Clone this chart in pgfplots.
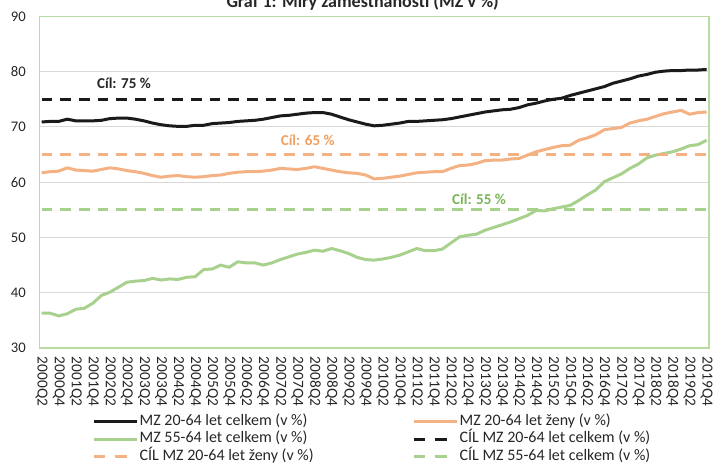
\documentclass[border=0pt]{standalone}
\usepackage{pgfplots}
\pgfplotsset{compat=1.18}
\usepackage{pgfplotstable}
\usepackage{fontspec}
\setmainfont{Carlito}
\definecolor{cblack}{HTML}{1A1A1A}
\definecolor{corange}{HTML}{F4B183}
\definecolor{cgreen}{HTML}{A9D18E}
\definecolor{cborder}{HTML}{B9DCA2}
\definecolor{cgrid}{HTML}{D9D9D9}
\definecolor{ctext}{HTML}{262626}
\definecolor{corangetxt}{HTML}{F0A060}
\definecolor{cgreentxt}{HTML}{79B556}
\pgfplotsset{dashleg/.style={legend image code/.code={\draw[##1,solid] (0pt,0pt)--(8.75pt,0pt) (16.25pt,0pt)--(25pt,0pt);}}}

\pgfplotstableread{
i tot zen s55
0 70.9 61.7 36.3
1 71.0 61.9 36.3
2 71.0 62.0 35.8
3 71.4 62.6 36.2
4 71.1 62.2 37.0
5 71.1 62.1 37.2
6 71.1 62.0 38.1
7 71.2 62.3 39.5
8 71.5 62.6 40.1
9 71.6 62.4 41.0
10 71.6 62.1 41.9
11 71.4 61.9 42.1
12 71.1 61.6 42.2
13 70.7 61.2 42.6
14 70.4 60.9 42.3
15 70.2 61.1 42.5
16 70.1 61.2 42.4
17 70.1 61.0 42.8
18 70.3 60.9 42.9
19 70.3 61.0 44.2
20 70.6 61.2 44.3
21 70.7 61.3 45.0
22 70.8 61.6 44.6
23 71.0 61.8 45.6
24 71.1 61.9 45.4
25 71.2 61.9 45.4
26 71.4 62.0 45.0
27 71.7 62.2 45.4
28 72.0 62.5 46.0
29 72.1 62.4 46.5
30 72.3 62.3 47.0
31 72.5 62.5 47.3
32 72.6 62.8 47.7
33 72.6 62.5 47.5
34 72.3 62.2 48.0
35 71.8 61.9 47.6
36 71.3 61.7 47.1
37 70.9 61.6 46.4
38 70.5 61.3 46.0
39 70.2 60.6 45.9
40 70.3 60.7 46.1
41 70.5 60.9 46.4
42 70.7 61.1 46.8
43 71.0 61.4 47.4
44 71.0 61.7 48.0
45 71.1 61.8 47.6
46 71.2 61.9 47.6
47 71.3 61.9 47.9
48 71.5 62.5 49.0
49 71.8 63.0 50.1
50 72.1 63.1 50.4
51 72.4 63.4 50.6
52 72.7 63.9 51.3
53 72.9 64.0 51.8
54 73.1 64.0 52.3
55 73.2 64.2 52.8
56 73.5 64.3 53.4
57 74.0 64.9 54.0
58 74.3 65.5 54.9
59 74.7 65.9 54.8
60 75.0 66.3 55.2
61 75.2 66.6 55.5
62 75.7 66.7 55.8
63 76.1 67.6 56.7
64 76.5 68.0 57.7
65 76.9 68.6 58.6
66 77.3 69.5 60.1
67 77.9 69.7 60.8
68 78.3 69.9 61.5
69 78.7 70.7 62.5
70 79.2 71.1 63.3
71 79.5 71.4 64.4
72 79.9 71.9 64.9
73 80.1 72.4 65.2
74 80.2 72.7 65.5
75 80.2 73.0 66.0
76 80.3 72.3 66.6
77 80.3 72.6 66.8
78 80.4 72.7 67.6
}\datatable

\begin{document}
\begin{tikzpicture}
\useasboundingbox (0pt,0pt) rectangle (534.75pt,347.25pt);
\clip (0pt,0pt) rectangle (534.75pt,347.25pt);
\node[font=\bfseries\fontsize{13.5}{15}\selectfont, text=ctext, anchor=base] at (272pt,341.5pt) {Graf 1: Míry zaměstnanosti (MZ v \%)};
\begin{axis}[
  at={(29.475pt,86.25pt)}, anchor=south west,
  scale only axis, width=502.3pt, height=248.7pt,
  xmin=-0.28, xmax=78.28, ymin=30, ymax=90,
  ytick={30,40,...,90},
  xtick={0,2,...,78},
  xticklabels={2000Q2,2000Q4,2001Q2,2001Q4,2002Q2,2002Q4,2003Q2,2003Q4,2004Q2,2004Q4,2005Q2,2005Q4,2006Q2,2006Q4,2007Q2,2007Q4,2008Q2,2008Q4,2009Q2,2009Q4,2010Q2,2010Q4,2011Q2,2011Q4,2012Q2,2012Q4,2013Q2,2013Q4,2014Q2,2014Q4,2015Q2,2015Q4,2016Q2,2016Q4,2017Q2,2017Q4,2018Q2,2018Q4,2019Q2,2019Q4},
  ymajorgrids, grid style={cgrid, line width=0.75pt},
  axis line style={cborder, line width=0.9pt},
  major tick length=0pt,
  /pgf/number format/assume math mode=true,
  tick label style={text=ctext},
  x tick label style={font=\fontsize{11.5}{13}\selectfont, rotate=-90, anchor=west, inner xsep=6.5pt},
  y tick label style={font=\fontsize{11}{13}\selectfont, anchor=east, inner xsep=10pt},
  clip=false,
  legend columns=2,
  legend cell align=left,
  legend image code/.code={\draw[#1] (0pt,0pt) -- (32.25pt,0pt);},
  legend style={at={(0.0787,-0.196)}, anchor=north west, draw=none, fill=none,
    inner sep=0pt, font=\fontsize{12}{13.5}\selectfont, text=ctext, row sep=0pt,
    nodes={inner sep=1pt, text height=8.3pt, text depth=2.6pt},
    /tikz/every even column/.append style={column sep=73pt}},
]
\addplot[cblack, line width=2.25pt, line join=round] table[x=i,y=tot]{\datatable};
\addlegendentry{MZ 20-64 let celkem (v \%)}
\addplot[corange, line width=2.25pt, line join=round] table[x=i,y=zen]{\datatable};
\addlegendentry{MZ 20-64 let ženy (v \%)}
\addplot[cgreen, line width=2.25pt, line join=round] table[x=i,y=s55]{\datatable};
\addlegendentry{MZ 55-64 let celkem (v \%)}
\addplot[cblack, line width=2.25pt, dash pattern=on 8pt off 6pt, dashleg] coordinates {(0,75) (78,75)};
\addlegendentry{CÍL MZ 20-64 let celkem (v \%)}
\addplot[corange, line width=2.25pt, dash pattern=on 8pt off 6pt, dashleg] coordinates {(0,65) (78,65)};
\addlegendentry{CÍL MZ 20-64 let ženy (v \%)}
\addplot[cgreen, line width=2.25pt, dash pattern=on 8pt off 6pt, dashleg] coordinates {(0,55) (78,55)};
\addlegendentry{CÍL MZ 55-64 let celkem (v \%)}
\node[font=\bfseries\fontsize{11.3}{13}\selectfont, text=ctext] at (axis cs:9.65,77.9) {Cíl: 75 \%};
\node[font=\bfseries\fontsize{11.3}{13}\selectfont, text=corangetxt] at (axis cs:31.2,67.65) {Cíl: 65 \%};
\node[font=\bfseries\fontsize{11.3}{13}\selectfont, text=cgreentxt] at (axis cs:51.3,56.9) {Cíl: 55 \%};
\end{axis}
\end{tikzpicture}
\end{document}
